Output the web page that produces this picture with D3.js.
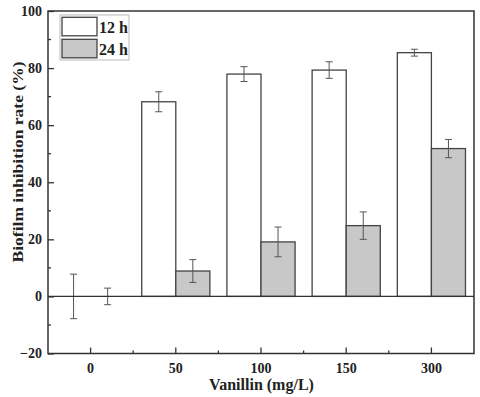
<!DOCTYPE html>
<html>
<head>
<meta charset="utf-8">
<script src="https://d3js.org/d3.v7.min.js"></script>
<style>
  body { margin: 0; background: #fff; }
  text { font-family: "Liberation Serif", "Times New Roman", serif; font-weight: bold; fill: #222; }
</style>
</head>
<body>
<script>
const categories = ["0", "50", "100", "150", "300"];
const series = ["12 h", "24 h"];
const values12 = [0, 68.2, 77.9, 79.3, 85.4];
const errors12 = [7.8, 3.5, 2.6, 2.9, 1.2];
const values24 = [0, 8.9, 19.1, 24.8, 51.8];
const errors24 = [2.9, 4.0, 5.2, 4.8, 3.2];
const yTicks = [-20, 0, 20, 40, 60, 80, 100];

const W = 480, H = 397;
const m = { left: 48, top: 11, right: 6, bottom: 43.5 };

const svg = d3.select("body").append("svg").attr("width", W).attr("height", H);

const x = d3.scaleBand().domain(categories).range([m.left, W - m.right]).padding(0);
const y = d3.scaleLinear().domain([-20, 100]).range([H - m.bottom, m.top]);
const barW = x.bandwidth() * 0.4;
const sub = d3.scaleBand().domain(series).range([-barW, barW]);

const rows = categories.map((c, i) => ({
  c,
  items: [
    { s: series[0], v: values12[i], e: errors12[i], fill: "#fff" },
    { s: series[1], v: values24[i], e: errors24[i], fill: "#c8c8c8" }
  ]
}));

const g = svg.append("g");
const groups = g.selectAll("g.cat").data(rows).enter().append("g")
  .attr("transform", d => `translate(${x(d.c) + x.bandwidth() / 2},0)`);

groups.selectAll("rect").data(d => d.items.filter(it => it.v !== 0)).enter().append("rect")
  .attr("x", d => sub(d.s))
  .attr("width", sub.bandwidth())
  .attr("y", d => y(d.v))
  .attr("height", d => y(0) - y(d.v))
  .attr("fill", d => d.fill)
  .attr("stroke", "#444")
  .attr("stroke-width", 1.3);

// error bars
const eb = groups.selectAll("g.err").data(d => d.items).enter().append("g")
  .attr("stroke", "#555").attr("stroke-width", 1);
eb.append("line")
  .attr("x1", d => sub(d.s) + sub.bandwidth() / 2).attr("x2", d => sub(d.s) + sub.bandwidth() / 2)
  .attr("y1", d => y(d.v + d.e)).attr("y2", d => y(d.v - d.e));
eb.append("line")
  .attr("x1", d => sub(d.s) + sub.bandwidth() / 2 - 3.5).attr("x2", d => sub(d.s) + sub.bandwidth() / 2 + 3.5)
  .attr("y1", d => y(d.v + d.e)).attr("y2", d => y(d.v + d.e));
eb.append("line")
  .attr("x1", d => sub(d.s) + sub.bandwidth() / 2 - 3.5).attr("x2", d => sub(d.s) + sub.bandwidth() / 2 + 3.5)
  .attr("y1", d => y(d.v - d.e)).attr("y2", d => y(d.v - d.e));

// zero line
svg.append("line")
  .attr("x1", m.left).attr("x2", W - m.right)
  .attr("y1", y(0)).attr("y2", y(0))
  .attr("stroke", "#333").attr("stroke-width", 1.3);

// frame
svg.append("rect")
  .attr("x", m.left).attr("y", m.top)
  .attr("width", W - m.left - m.right).attr("height", H - m.top - m.bottom)
  .attr("fill", "none").attr("stroke", "#333").attr("stroke-width", 1.5);

// y axis
const yAxis = d3.axisLeft(y).tickValues(yTicks).tickSize(-6).tickPadding(6).tickFormat(d3.format("d"));
const ya = svg.append("g").attr("transform", `translate(${m.left},0)`).call(yAxis);
ya.select(".domain").remove();
ya.selectAll("text").style("font-size", "14px");
ya.selectAll("line").attr("stroke", "#333").attr("stroke-width", 1.3);
const yMinor = d3.range(-10, 100, 20);
svg.append("g").selectAll("line").data(yMinor).enter().append("line")
  .attr("x1", m.left).attr("x2", m.left + 3)
  .attr("y1", d => y(d)).attr("y2", d => y(d))
  .attr("stroke", "#333").attr("stroke-width", 1.3);

// x axis
const xAxis = d3.axisBottom(x).tickSize(-6).tickPadding(10);
const xa = svg.append("g").attr("transform", `translate(0,${H - m.bottom})`).call(xAxis);
xa.select(".domain").remove();
xa.selectAll("text").style("font-size", "14px");
xa.selectAll("line").attr("stroke", "#333").attr("stroke-width", 1.3);
svg.append("g").selectAll("line").data(categories.slice(1)).enter().append("line")
  .attr("x1", d => x(d)).attr("x2", d => x(d))
  .attr("y1", H - m.bottom).attr("y2", H - m.bottom - 3)
  .attr("stroke", "#333").attr("stroke-width", 1.3);

// axis titles
svg.append("text")
  .attr("x", 261.5).attr("y", 390)
  .attr("text-anchor", "middle").style("font-size", "16px")
  .text("Vanillin (mg/L)");
svg.append("text")
  .attr("transform", `translate(23,162) rotate(-90)`)
  .attr("text-anchor", "middle").style("font-size", "15.5px")
  .attr("textLength", 201).attr("lengthAdjust", "spacingAndGlyphs")
  .text("Biofilm inhibition rate (%)");

// legend
const lg = svg.append("g").attr("transform", "translate(60,15)");
lg.append("rect").attr("width", 69).attr("height", 45)
  .attr("fill", "#fff").attr("stroke", "#bbb").attr("stroke-width", 1);
const li = lg.selectAll("g.li").data(rows[1].items).enter().append("g")
  .attr("transform", (d, i) => `translate(2,${2.3 + i * 22})`);
li.append("rect").attr("width", 35).attr("height", 18.5)
  .attr("fill", d => d.fill).attr("stroke", "#444").attr("stroke-width", 1.3);
li.append("text").attr("x", 37).attr("y", 16).style("font-size", "16px").text(d => d.s);
</script>
</body>
</html>
